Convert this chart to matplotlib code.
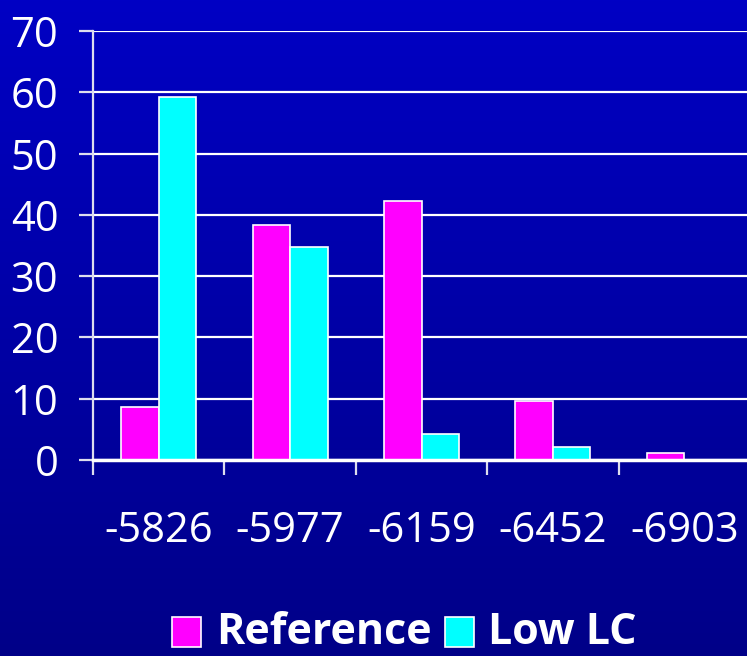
import numpy as np
import matplotlib
matplotlib.use("Agg")
import matplotlib.pyplot as plt
from matplotlib.patches import Rectangle

categories = ["-5826", "-5977", "-6159", "-6452", "-6903"]
reference = [8.7, 38.3, 42.2, 9.7, 1.2]
low_lc = [59.2, 34.7, 4.2, 2.2, 0.0]
series_names = ["Reference", "Low LC"]
series_colors = ["#FF00FF", "#00FFFF"]
y_ticks = [0, 10, 20, 30, 40, 50, 60, 70]

W, H = 747, 656
fig = plt.figure(figsize=(W / 100, H / 100), dpi=100)

# vertical blue gradient behind everything
bg = fig.add_axes([0, 0, 1, 1], zorder=-10)
grad = np.linspace(0, 1, 256)[:, None]
top = np.array([0, 0, 196]) / 255
bot = np.array([0, 0, 136]) / 255
img = top[None, None, :] * (1 - grad[:, :, None]) + bot[None, None, :] * grad[:, :, None]
bg.imshow(img, aspect="auto", extent=[0, 1, 0, 1])
bg.set_axis_off()

font = "Open Sans"
x0, x1 = 93, 750
y0, y1 = 460, 31
ax = fig.add_axes([x0 / W, 1 - y0 / H, (x1 - x0) / W, (y0 - y1) / H])
ax.patch.set_alpha(0)

n = len(categories)
xc = np.arange(n) + 0.5
bw = 0.285
ax.bar(xc - bw / 2, reference, bw, color=series_colors[0], edgecolor="white",
       linewidth=1.2, zorder=3)
ax.bar(xc + bw / 2, low_lc, bw, color=series_colors[1], edgecolor="white",
       linewidth=1.2, zorder=3)

ax.set_xlim(0, n)
ax.set_ylim(0, 70)
ax.set_yticks(y_ticks)
ax.set_yticklabels([str(v) for v in y_ticks])
ax.set_xticks(np.arange(n + 1))
ax.set_xticklabels([])
ax.set_xticks(xc, minor=True)
ax.set_xticklabels(categories, minor=True)

ax.yaxis.grid(True, color="white", linewidth=1.6, zorder=1)
ax.set_axisbelow(True)
for s in ["top", "right"]:
    ax.spines[s].set_visible(False)
ax.spines["left"].set_color("#DDDDEE")
ax.spines["left"].set_linewidth(1.6)
ax.spines["bottom"].set_color("white")
ax.spines["bottom"].set_linewidth(2.5)
ax.spines["bottom"].set_zorder(4)

ax.tick_params(axis="y", direction="out", length=10, width=1.6, color="#DDDDEE",
               pad=15, labelcolor="white", labelsize=30)
ax.tick_params(axis="x", which="major", direction="out", length=11, width=1.6,
               color="#DDDDEE")
ax.tick_params(axis="x", which="minor", length=0, pad=36, labelcolor="white",
               labelsize=30)
for lab in ax.get_yticklabels() + ax.get_xticklabels(minor=True):
    lab.set_fontfamily(font)

# legend along the bottom
legend_items = [(172, 216), (445, 488)]
for (sx, tx), name, col in zip(legend_items, series_names, series_colors):
    fig.patches.append(Rectangle((sx / W, 1 - 647 / H), 29 / W, 30 / H,
                                 transform=fig.transFigure, facecolor=col,
                                 edgecolor="white", linewidth=1.2))
    fig.text(tx / W, 1 - 632 / H, name, color="white", fontsize=31,
             fontweight="bold", family=font, va="center", ha="left")

fig.savefig("out.png", dpi=100)
